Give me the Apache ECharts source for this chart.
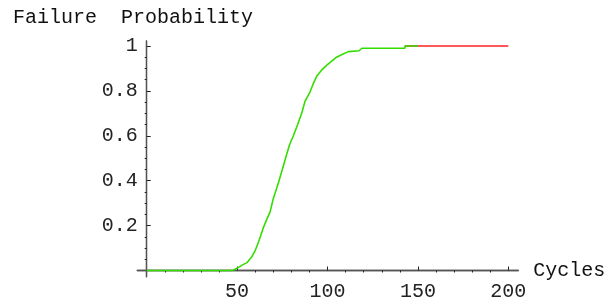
<!DOCTYPE html>
<html>
<head>
<meta charset="utf-8">
<script src="https://cdn.jsdelivr.net/npm/echarts@6/dist/echarts.min.js"></script>
<style>
  html, body { margin: 0; padding: 0; background: #fff; }
  #chart { width: 615px; height: 304px; }
</style>
</head>
<body>
<div id="chart"></div>
<script>
// failure curve
const cycles = [0, 47.5, 48.5, 51, 53, 55.4, 58, 60, 62, 64.5, 66.5, 68.2, 70, 72.8, 75, 77.5, 79, 81.1, 83.5, 85.7, 87.6, 90.3, 92, 94, 97, 99.6, 102, 105, 108, 111.5, 117.5, 119, 142.8, 142.8, 150];
const failProb = [0, 0, 0.008, 0.015, 0.025, 0.035, 0.06, 0.089, 0.13, 0.19, 0.23, 0.26, 0.32, 0.39, 0.45, 0.52, 0.56, 0.6, 0.65, 0.7, 0.755, 0.795, 0.83, 0.865, 0.895, 0.915, 0.93, 0.95, 0.962, 0.975, 0.979, 0.99, 0.99, 1, 1];
// tail after the last observed failure
const tailCycles = [142.8, 200];
const tailProb = [1, 1];

const xMajor = [50, 100, 150, 200];
const xMinor = [10, 20, 30, 40, 60, 70, 80, 90, 110, 120, 130, 140, 160, 170, 180, 190];
const yMajor = [0.2, 0.4, 0.6, 0.8, 1];
const yMinor = [0.05, 0.1, 0.15, 0.25, 0.3, 0.35, 0.45, 0.5, 0.55, 0.65, 0.7, 0.75, 0.85, 0.9, 0.95];

const font = "'Liberation Mono', 'DejaVu Sans Mono', monospace";
const axisColor = "#555";

let myChart = echarts.init(document.getElementById("chart"));
let option = {
  animation: false,
  title: {
    text: "Failure  Probability",
    left: 13,
    top: 8,
    padding: 0,
    textStyle: { fontFamily: font, fontSize: 20, fontWeight: "normal", color: "#111" },
  },
  grid: { left: 137.3, right: 96.7, top: 41, bottom: 27.3 },
  xAxis: [
    {
      type: "value",
      min: -5.2,
      max: 205.5,
      name: "Cycles",
      nameLocation: "end",
      nameGap: 15,
      nameTextStyle: { fontFamily: font, fontSize: 20, color: "#111" },
      axisLine: { onZero: true, onZeroAxisIndex: 0, lineStyle: { color: axisColor, width: 1.3 } },
      axisTick: { inside: true, length: 4, customValues: xMajor, lineStyle: { color: "#222" } },
      axisLabel: { customValues: xMajor, margin: 5, fontFamily: font, fontSize: 20, color: "#222" },
      splitLine: { show: false },
    },
    {
      type: "value",
      min: -5.2,
      max: 205.5,
      axisLine: { onZero: true, onZeroAxisIndex: 0, lineStyle: { color: axisColor, width: 1.3 } },
      axisTick: { inside: true, length: 2, customValues: xMinor, lineStyle: { color: "#222" } },
      axisLabel: { show: false },
      splitLine: { show: false },
    },
  ],
  yAxis: [
    {
      type: "value",
      min: -0.0276,
      max: 1.0223,
      axisLine: { onZero: true, onZeroAxisIndex: 0, lineStyle: { color: axisColor, width: 1.3 } },
      axisTick: { inside: true, length: 4, customValues: yMajor, lineStyle: { color: "#222" } },
      axisLabel: { customValues: yMajor, margin: -0.5, fontFamily: font, fontSize: 20, color: "#222" },
      splitLine: { show: false },
    },
    {
      type: "value",
      min: -0.0276,
      max: 1.0223,
      axisLine: { onZero: true, onZeroAxisIndex: 0, lineStyle: { color: axisColor, width: 1.3 } },
      axisTick: { inside: true, length: 2, customValues: yMinor, lineStyle: { color: "#222" } },
      axisLabel: { show: false },
      splitLine: { show: false },
    },
  ],
  series: [
    {
      name: "tail",
      type: "line",
      showSymbol: false,
      lineStyle: { color: "#ff2020", width: 1.6 },
      z: 2,
      data: tailCycles.map((c, i) => [c, tailProb[i]]),
    },
    {
      name: "failure",
      type: "line",
      showSymbol: false,
      lineStyle: { color: "#33dd00", width: 1.6 },
      z: 3,
      data: cycles.map((c, i) => [c, failProb[i]]),
    },
  ],
};
myChart.setOption(option);
</script>
</body>
</html>
